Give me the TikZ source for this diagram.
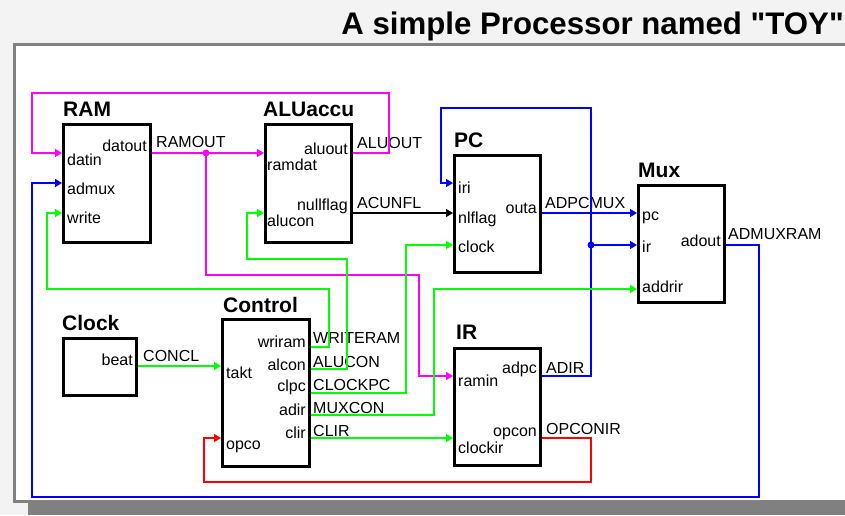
\documentclass[tikz,border=0pt]{standalone}
\usepackage{fontspec}
\newfontfamily\lsans{Liberation Sans}
\usetikzlibrary{arrows.meta,calc}
\definecolor{wmag}{RGB}{255,0,255}
\definecolor{wblue}{RGB}{0,0,255}
\definecolor{wgreen}{RGB}{0,255,0}
\definecolor{wred}{RGB}{255,0,0}
\definecolor{pagebg}{RGB}{243,243,243}
\definecolor{framegray}{RGB}{128,128,128}
\begin{document}
\begin{tikzpicture}[x=1pt,y=-1pt,
  blk/.style={draw=black,line width=3pt,inner sep=0pt},
  ttl/.style={font=\lsans\bfseries\fontsize{21}{21}\selectfont,inner sep=0pt,anchor=base west},
  pin/.style={font=\lsans\fontsize{16}{16}\selectfont,inner sep=0pt,anchor=base west},
  pout/.style={font=\lsans\fontsize{16}{16}\selectfont,inner sep=0pt,anchor=base east},
  wlab/.style={font=\lsans\fontsize{16}{16}\selectfont,inner sep=0pt,anchor=base west},
  wire/.style={line width=1.5pt,-{Triangle[length=7pt,width=8pt]}},
  junc/.style={circle,inner sep=0pt,minimum size=7pt},
]
\useasboundingbox (0,0) rectangle (845,515);
% page and frame
\fill[pagebg] (0,0) rectangle (845,515);
\fill[white] (16,46) rectangle (845,500);
\fill[framegray] (13,43) rectangle (845,46);
\fill[framegray] (13,43) rectangle (16,503);
\fill[framegray] (13,500) rectangle (845,503);
\fill[framegray] (28,503) rectangle (845,515);
\node[font=\lsans\bfseries\fontsize{31.2}{32}\selectfont,inner sep=0pt,anchor=base east] (heading) at (844,34) {A simple Processor named "TOY"};

% blocks
\node[blk,minimum width=87pt,minimum height=118pt] (ram) at (107,183.5) {};
\node[blk,minimum width=86pt,minimum height=118pt] (alu) at (308.5,183.5) {};
\node[blk,minimum width=86pt,minimum height=117pt] (pc) at (497.5,214) {};
\node[blk,minimum width=86pt,minimum height=117pt] (mux) at (681.5,244) {};
\node[blk,minimum width=73pt,minimum height=57pt] (clk) at (100,367) {};
\node[blk,minimum width=87pt,minimum height=147pt] (ctl) at (266,393) {};
\node[blk,minimum width=86pt,minimum height=117pt] (ir) at (497.5,407) {};

% block titles
\node[ttl] (tram) at ($(ram.north west)+(1,-7)$) {RAM};
\node[ttl] (talu) at ($(alu.north west)+(-1,-7)$) {ALUaccu};
\node[ttl] (tpc) at ($(pc.north west)+(1,-7)$) {PC};
\node[ttl] (tmux) at ($(mux.north west)+(1,-7)$) {Mux};
\node[ttl] (tclk) at ($(clk.north west)+(0,-7)$) {Clock};
\node[ttl] (tctl) at ($(ctl.north west)+(2,-6)$) {Control};
\node[ttl] (tir) at ($(ir.north west)+(3,-8)$) {IR};

% ports
\coordinate (ram-datin)  at ($(ram.north west)+(0,30)$);
\coordinate (ram-admux)  at ($(ram.north west)+(0,60)$);
\coordinate (ram-write)  at ($(ram.north west)+(0,90)$);
\coordinate (ram-datout) at ($(ram.north east)+(0,30)$);
\coordinate (alu-ramdat) at ($(alu.north west)+(0,30)$);
\coordinate (alu-alucon) at ($(alu.north west)+(0,90)$);
\coordinate (alu-aluout) at ($(alu.north east)+(0,30)$);
\coordinate (alu-nullflag) at ($(alu.north east)+(0,90)$);
\coordinate (pc-iri)    at ($(pc.north west)+(0,29)$);
\coordinate (pc-nlflag) at ($(pc.north west)+(0,59)$);
\coordinate (pc-clock)  at ($(pc.north west)+(0,91)$);
\coordinate (pc-outa)   at ($(pc.north east)+(0,59)$);
\coordinate (mux-pc)     at ($(mux.north west)+(0,29)$);
\coordinate (mux-ir)     at ($(mux.north west)+(0,61)$);
\coordinate (mux-addrir) at ($(mux.north west)+(0,105)$);
\coordinate (mux-adout)  at ($(mux.north east)+(0,61)$);
\coordinate (clk-beat)   at ($(clk.north east)+(0,29)$);
\coordinate (ctl-takt)   at ($(ctl.north west)+(0,48)$);
\coordinate (ctl-opco)   at ($(ctl.north west)+(0,120)$);
\coordinate (ctl-wriram) at ($(ctl.north east)+(0,29)$);
\coordinate (ctl-alcon)  at ($(ctl.north east)+(0,51)$);
\coordinate (ctl-clpc)   at ($(ctl.north east)+(0,75)$);
\coordinate (ctl-adir)   at ($(ctl.north east)+(0,97)$);
\coordinate (ctl-clir)   at ($(ctl.north east)+(0,120)$);
\coordinate (ir-ramin)   at ($(ir.north west)+(0,29)$);
\coordinate (ir-clockir) at ($(ir.north west)+(0,91)$);
\coordinate (ir-adpc)    at ($(ir.north east)+(0,29)$);
\coordinate (ir-opcon)   at ($(ir.north east)+(0,91)$);

% port labels
\node[pin] (l1) at ($(ram-datin)+(5,12)$) {datin};
\node[pin] (l2) at ($(ram-admux)+(5,11)$) {admux};
\node[pin] (l3) at ($(ram-write)+(5,10)$) {write};
\node[pout] (l4) at ($(ram-datout)+(-5,-2)$) {datout};
\node[pin] (l5) at ($(alu-ramdat)+(3,17)$) {ramdat};
\node[pin] (l6) at ($(alu-alucon)+(3,13)$) {alucon};
\node[pout] (l7) at ($(alu-aluout)+(-5,1)$) {aluout};
\node[pout] (l8) at ($(alu-nullflag)+(-5,-3)$) {nullflag};
\node[pin] (l9) at ($(pc-iri)+(5,10)$) {iri};
\node[pin] (l10) at ($(pc-nlflag)+(5,10)$) {nlflag};
\node[pin] (l11) at ($(pc-clock)+(5,7)$) {clock};
\node[pout] (l12) at ($(pc-outa)+(-5,0)$) {outa};
\node[pin] (l13) at ($(mux-pc)+(5,7)$) {pc};
\node[pin] (l14) at ($(mux-ir)+(5,7)$) {ir};
\node[pin] (l15) at ($(mux-addrir)+(5,3)$) {addrir};
\node[pout] (l16) at ($(mux-adout)+(-5,1)$) {adout};
\node[pout] (l17) at ($(clk-beat)+(-5,-1)$) {beat};
\node[pin] (l18) at ($(ctl-takt)+(5,12)$) {takt};
\node[pin] (l19) at ($(ctl-opco)+(5,11)$) {opco};
\node[pout] (l20) at ($(ctl-wriram)+(-5,0)$) {wriram};
\node[pout] (l21) at ($(ctl-alcon)+(-5,1)$) {alcon};
\node[pout] (l22) at ($(ctl-clpc)+(-5,-2)$) {clpc};
\node[pout] (l23) at ($(ctl-adir)+(-5,0)$) {adir};
\node[pout] (l24) at ($(ctl-clir)+(-5,0)$) {clir};
\node[pin] (l25) at ($(ir-ramin)+(5,10)$) {ramin};
\node[pin] (l26) at ($(ir-clockir)+(5,15)$) {clockir};
\node[pout] (l27) at ($(ir-adpc)+(-5,-3)$) {adpc};
\node[pout] (l28) at ($(ir-opcon)+(-5,-2)$) {opcon};

% signal names
\node[wlab] (s1) at ($(ram-datout)+(4,-6)$) {RAMOUT};
\node[wlab] (s2) at ($(alu-aluout)+(4,-5)$) {ALUOUT};
\node[wlab] (s3) at ($(alu-nullflag)+(4,-5)$) {ACUNFL};
\node[wlab] (s4) at ($(pc-outa)+(3,-5)$) {ADPCMUX};
\node[wlab] (s5) at ($(mux-adout)+(2,-6)$) {ADMUXRAM};
\node[wlab] (s6) at ($(clk-beat)+(5,-5)$) {CONCL};
\node[wlab] (s7) at ($(ctl-wriram)+(2,-4)$) {WRITERAM};
\node[wlab] (s8) at ($(ctl-alcon)+(2,-2)$) {ALUCON};
\node[wlab] (s9) at ($(ctl-clpc)+(2,-3)$) {CLOCKPC};
\node[wlab] (s10) at ($(ctl-adir)+(2,-2)$) {MUXCON};
\node[wlab] (s11) at ($(ctl-clir)+(2,-2)$) {CLIR};
\node[wlab] (s12) at ($(ir-adpc)+(4,-3)$) {ADIR};
\node[wlab] (s13) at ($(ir-opcon)+(4,-4)$) {OPCONIR};

% connectors
\node[junc,fill=wmag] (jr) at (206,153) {};
\node[junc,fill=wblue] (jb) at (591,245) {};
\draw[wire,wmag] (alu-aluout) -| (389,93) -| (32,153) -- (ram-datin);
\draw[wire,wmag] (ram-datout) -- (alu-ramdat);
\draw[wire,wmag] (jr.center) |- (419,275) |- (ir-ramin);
\draw[wire,wblue] (pc-outa) -- (mux-pc);
\draw[wire,wblue] (ir-adpc) -| (591,108) -| (441,183) -- (pc-iri);
\draw[wire,wblue] (jb.center) -- (mux-ir);
\draw[wire,wblue] (mux-adout) -| (759,497) -| (32,183) -- (ram-admux);
\draw[wire,black] (alu-nullflag) -- (pc-nlflag);
\draw[wire,wgreen] (clk-beat) -- (ctl-takt);
\draw[wire,wgreen] (ctl-wriram) -| (329,289) -| (47,213) -- (ram-write);
\draw[wire,wgreen] (ctl-alcon) -| (347,259) -| (247,213) -- (alu-alucon);
\draw[wire,wgreen] (ctl-clpc) -| (406,245) -- (pc-clock);
\draw[wire,wgreen] (ctl-adir) -| (434,289) -- (mux-addrir);
\draw[wire,wgreen] (ctl-clir) -- (ir-clockir);
\draw[wire,wred] (ir-opcon) -| (591,482) -| (204,438) -- (ctl-opco);
\end{tikzpicture}
\end{document}
